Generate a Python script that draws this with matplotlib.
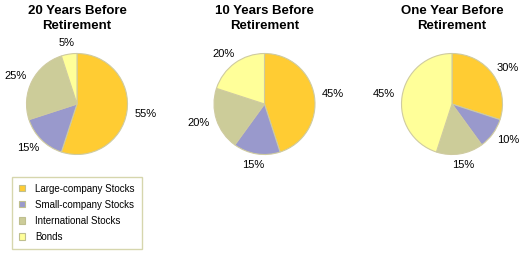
import math
import matplotlib
matplotlib.use("Agg")
import matplotlib.pyplot as plt
from matplotlib.patches import Patch

plt.rcParams['font.family'] = ['Liberation Sans', 'DejaVu Sans']

categories = ["Large-company Stocks", "Small-company Stocks", "International Stocks", "Bonds"]
colors = ["#FFCC33", "#9999CC", "#CCCC99", "#FFFF99"]
titles = ["20 Years Before\nRetirement", "10 Years Before\nRetirement", "One Year Before\nRetirement"]
values_20y = [55, 15, 25, 5]
values_10y = [45, 15, 20, 20]
values_1y = [30, 10, 15, 45]
all_values = [values_20y, values_10y, values_1y]

W, H = 528, 254
fig = plt.figure(figsize=(W / 100, H / 100), dpi=100)
ax = fig.add_axes([0, 0, 1, 1])

centers_x = [77, 264.5, 452]
center_y = H - 104
radius = 50.5
label_gap = 1.15  # label box inner edge distance, in radii

pies = []
for cx, vals, title in zip(centers_x, all_values, titles):
    wedges, texts = ax.pie(
        vals, colors=colors, startangle=90, counterclock=False,
        center=(cx, center_y), radius=radius, frame=True,
        labels=[f"{v}%" for v in vals], labeldistance=1.17,
        textprops=dict(fontsize=8, color="black"),
        wedgeprops=dict(edgecolor="#CFCBA0", linewidth=0.8),
    )
    pies.append((cx, wedges, texts))
    ax.text(cx, H - 18.7, title, ha='center', va='center', fontsize=9.5,
            fontweight='bold', linespacing=1.35)

ax.set_xlim(0, W)
ax.set_ylim(0, H)
ax.set_aspect('auto')
ax.axis('off')

# Excel-like label placement: box pushed outward along the slice mid-angle
renderer = fig.canvas.get_renderer()
for cx, wedges, texts in pies:
    for w, t in zip(wedges, texts):
        th = math.radians((w.theta1 + w.theta2) / 2)
        c, s = math.cos(th), math.sin(th)
        bb = t.get_window_extent(renderer)
        tw, tht = bb.width, bb.height * 0.72
        d = label_gap * radius
        t.set_horizontalalignment('center')
        t.set_verticalalignment('center')
        t.set_position((cx + d * c + tw / 2 * c, center_y + d * s + tht / 2 * s))

handles = [Patch(facecolor=c, edgecolor="#BFBF8F", linewidth=0.8) for c in colors]
leg = fig.legend(handles, categories, loc='upper left',
                 bbox_to_anchor=(12 / W, 1 - 177 / H), bbox_transform=fig.transFigure,
                 fontsize=7, frameon=True, fancybox=False, borderaxespad=0,
                 handlelength=0.6, handleheight=0.6, handletextpad=1.1,
                 labelspacing=0.62, borderpad=0.7)
leg.get_frame().set_edgecolor("#CCCC99")
leg.get_frame().set_linewidth(1.0)

fig.savefig("out.png", dpi=100)
